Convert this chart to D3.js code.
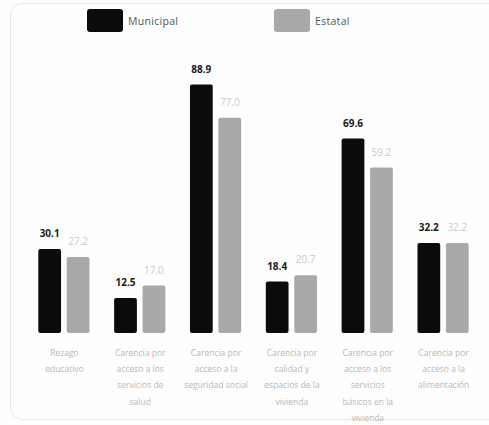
<!DOCTYPE html>
<html><head><meta charset="utf-8">
<script src="https://cdn.jsdelivr.net/npm/d3@7"></script>
<style>
html,body{margin:0;padding:0;background:#fdfdfd;}
svg{display:block;}
</style></head>
<body>
<svg id="chart" width="489" height="425"></svg>
<script>
const categories = [
  ["Rezago","educativo"],
  ["Carencia por","acceso a los","servicios de","salud"],
  ["Carencia por","acceso a la","seguridad social"],
  ["Carencia por","calidad y","espacios de la","vivienda"],
  ["Carencia por","acceso a los","servicios","básicos en la","vivienda"],
  ["Carencia por","acceso a la","alimentación"]
];
const seriesNames = ["Municipal","Estatal"];
const municipal = [30.1, 12.5, 88.9, 18.4, 69.6, 32.2];
const estatal = [27.2, 17.0, 77.0, 20.7, 59.2, 32.2];
const colors = ["#0b0b0b","#a9a9a9"];
const labelColors = ["#1a1a1a","#c9c9c9"];

const svg = d3.select("#chart");

// frame
svg.append("rect").attr("x",10.5).attr("y",3.5).attr("width",500).attr("height",416)
  .attr("rx",12).attr("fill","#fefefe").attr("stroke","#e6e6e6").attr("stroke-width",1);

const idx = d3.range(categories.length);
const x0 = d3.scaleBand().domain(idx).range([26,481]).padding(0);
const x1 = d3.scaleBand().domain(seriesNames).range([12.3,63.5]).paddingInner(0.2);
const y = d3.scaleLinear().domain([0,100]).range([333,53.6]);

const data = idx.map(i => ({i, vals:[municipal[i], estatal[i]]}));

const g = svg.append("g");
const groups = g.selectAll("g.grp").data(data).enter().append("g")
  .attr("transform", d => `translate(${x0(d.i)},0)`);

groups.selectAll("rect").data(d => d.vals.map((v,k)=>({v,k}))).enter().append("rect")
  .attr("x", d => x1(seriesNames[d.k]))
  .attr("y", d => y(d.v))
  .attr("width", x1.bandwidth())
  .attr("height", d => y(0) - y(d.v))
  .attr("rx", 2)
  .attr("fill", d => colors[d.k]);

groups.selectAll("text.val").data(d => d.vals.map((v,k)=>({v,k}))).enter().append("text")
  .attr("class","val")
  .attr("x", d => x1(seriesNames[d.k]) + x1.bandwidth()/2)
  .attr("y", d => y(d.v) - 12)
  .attr("text-anchor","middle")
  .attr("font-family","Open Sans, sans-serif")
  .attr("font-size", 10)
  .attr("font-weight", d => d.k===0 ? "bold" : "normal")
  .attr("fill", d => labelColors[d.k])
  .text(d => d3.format(".1f")(d.v));

// category labels
groups.append("text")
  .attr("text-anchor","middle")
  .attr("font-family","Open Sans, sans-serif")
  .attr("font-size", 8.5)
  .attr("fill","#b8b8b8")
  .selectAll("tspan").data(d => categories[d.i]).enter().append("tspan")
  .attr("x", x0.bandwidth()/2 + 0.5)
  .attr("y", (d,j) => 355.5 + j*16.4)
  .text(d => d);

// legend
const legend = svg.append("g");
const legX = [87, 274];
seriesNames.forEach((name,k) => {
  const lg = legend.append("g").attr("transform",`translate(${legX[k]},9)`);
  lg.append("rect").attr("width",36).attr("height",23).attr("rx",3).attr("fill",colors[k]);
  lg.append("text").attr("x",41).attr("y",15.5)
    .attr("font-family","Open Sans, sans-serif").attr("font-size",10.5)
    .attr("letter-spacing",0.3)
    .attr("fill","#555").text(name);
});
</script>
</body></html>
